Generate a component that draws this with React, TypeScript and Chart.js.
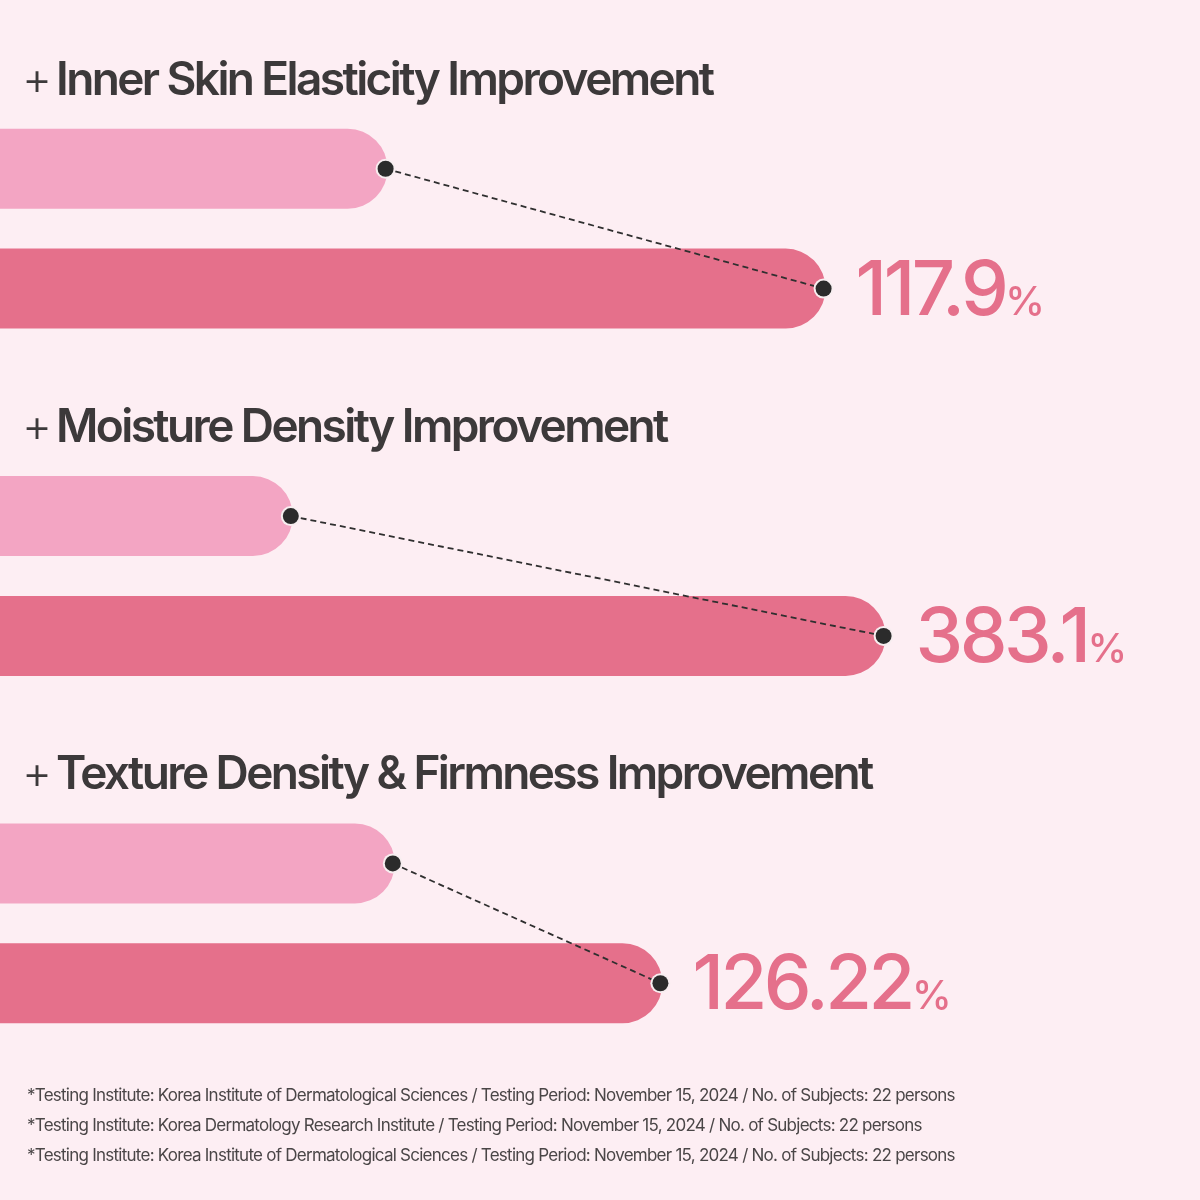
import React, { useEffect, useRef } from "react";
import { Chart, registerables } from "chart.js";

Chart.register(...registerables);

// improvement categories
const titles = [
  "Inner Skin Elasticity Improvement",
  "Moisture Density Improvement",
  "Texture Density & Firmness Improvement",
];
// bar lengths as % of width
const beforeValues = [32.3, 24.4, 32.9];
const afterValues = [68.8, 73.8, 55.2];
// improvement labels
const improvement = ["117.9", "383.1", "126.22"];

const footnotes = [
  "*Testing Institute: Korea Institute of Dermatological Sciences / Testing Period: November 15, 2024 / No. of Subjects: 22 persons",
  "*Testing Institute: Korea Dermatology Research Institute / Testing Period: November 15, 2024 / No. of Subjects: 22 persons",
  "*Testing Institute: Korea Institute of Dermatological Sciences / Testing Period: November 15, 2024 / No. of Subjects: 22 persons",
];

const BG = "#fdeef3";
const LIGHT = "#f3a5c3";
const DARK = "#e5708b";
const TEXT = "#3c393a";

const overlay = {
  id: "overlay",
  beforeDraw(chart: any) {
    const { ctx, width, height } = chart;
    ctx.save();
    ctx.fillStyle = BG;
    ctx.fillRect(0, 0, width, height);
    ctx.restore();
  },
  afterDatasetsDraw(chart: any) {
    const ctx = chart.ctx;
    const before = chart.getDatasetMeta(0).data;
    const after = chart.getDatasetMeta(1).data;
    ctx.save();
    titles.forEach((t, i) => {
      const b = before[i];
      const a = after[i];
      const top = b.y - b.height / 2;

      // title
      ctx.fillStyle = TEXT;
      ctx.textBaseline = "alphabetic";
      ctx.font = "300 46px Inter";
      ctx.letterSpacing = "0px";
      ctx.fillText("+", 22, top - 34);
      ctx.font = "600 46px Inter";
      ctx.letterSpacing = "-2.6px";
      ctx.fillText(t, 56, top - 34);

      // dashed connector
      const x1 = b.x - 2;
      const x2 = a.x - 2;
      ctx.strokeStyle = "#2f2f2f";
      ctx.lineWidth = 1.8;
      ctx.setLineDash([6, 4]);
      ctx.beginPath();
      ctx.moveTo(x1, b.y);
      ctx.lineTo(x2, a.y);
      ctx.stroke();
      ctx.setLineDash([]);

      // dots
      [
        [x1, b.y],
        [x2, a.y],
      ].forEach(([x, y]) => {
        ctx.beginPath();
        ctx.arc(x, y, 10, 0, Math.PI * 2);
        ctx.fillStyle = "#f7eef0";
        ctx.fill();
        ctx.beginPath();
        ctx.arc(x, y, 8, 0, Math.PI * 2);
        ctx.fillStyle = "#2b2b2b";
        ctx.fill();
      });

      // value label
      ctx.fillStyle = DARK;
      ctx.font = "500 76px Inter";
      ctx.letterSpacing = "-3.5px";
      const lx = a.x + 30;
      const ly = a.y + 26;
      ctx.fillText(improvement[i], lx, ly);
      const w = ctx.measureText(improvement[i]).width;
      ctx.font = "500 40px Inter";
      ctx.letterSpacing = "-1px";
      ctx.fillText("%", lx + w, ly);
    });

    // footnotes
    ctx.fillStyle = "#4a4647";
    ctx.font = "400 17px Inter";
    ctx.letterSpacing = "-0.75px";
    footnotes.forEach((f, i) => {
      ctx.fillText(f, 27, 1101 + i * 30);
    });
    ctx.restore();
  },
};

const App = () => {
  const canvasRef = useRef<HTMLCanvasElement | null>(null);

  useEffect(() => {
    document.body.style.margin = "0";
    if (!canvasRef.current) return;
    const chart = new Chart(canvasRef.current, {
      type: "bar",
      data: {
        labels: titles,
        datasets: [
          {
            label: "Before",
            data: beforeValues,
            backgroundColor: LIGHT,
            borderRadius: 40,
            categoryPercentage: 0.69,
            barPercentage: 0.667,
          },
          {
            label: "After",
            data: afterValues,
            backgroundColor: DARK,
            borderRadius: 40,
            categoryPercentage: 0.69,
            barPercentage: 0.667,
          },
        ],
      },
      options: {
        indexAxis: "y",
        animation: false,
        responsive: true,
        maintainAspectRatio: false,
        layout: { padding: { top: 55, bottom: 103, left: 0, right: 0 } },
        scales: {
          x: { display: false, min: 0, max: 100 },
          y: { display: false },
        },
        plugins: {
          legend: { display: false },
          tooltip: { enabled: false },
        },
      },
      plugins: [overlay],
    });
    return () => {
      chart.destroy();
    };
  }, []);

  return (
    <div style={{ width: 1200, height: 1200, position: "relative" }}>
      <canvas ref={canvasRef} />
    </div>
  );
};

export default App;
